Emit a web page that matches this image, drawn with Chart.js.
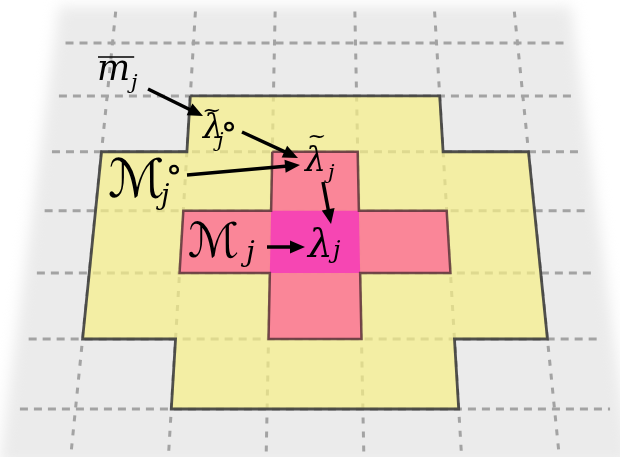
<!DOCTYPE html>
<html>
<head>
<meta charset="utf-8">
<script src="https://cdn.jsdelivr.net/npm/chart.js@4.4.1/dist/chart.umd.min.js"></script>
<style>
html,body{margin:0;padding:0;background:#fff;}
#wrap{width:620px;height:457px;position:relative;}
</style>
</head>
<body>
<div id="wrap"><canvas id="c"></canvas></div>
<script>
// ----- Data: a 5 x 6 grid of cells, each cell is [column, row] -----
const colCount = 5;
const rowCount = 6;
const yellowCells = [
  [1,1],[2,1],[3,1],
  [0,2],[1,2],[2,2],[3,2],[4,2],
  [0,3],[1,3],[2,3],[3,3],[4,3],
  [0,4],[1,4],[2,4],[3,4],[4,4],
  [1,5],[2,5],[3,5]
];
const pinkCells = [[2,2],[1,3],[2,3],[3,3],[2,4]];
const centerCells = [[2,3]];

// label texts (base, sub, accent marks)
const labelTexts = [
  {base:'m', sub:'j', bar:true},
  {base:'λ', sub:'j', tilde:true, ring:true},
  {base:'λ', sub:'j', tilde:true},
  {base:'ℳ', sub:'j', ring:true},
  {base:'ℳ', sub:'j'},
  {base:'λ', sub:'j'}
];

// ----- Layout (canvas units) -----
const view = {cx:315, yh:-1960, p:4.9925e-4, q:1.2855e-5, k:0.04044};
const serif = '"DejaVu Serif", serif';
const script = '"DejaVu Sans", serif';
const labelLayout = [
  {x:97,  y:80,  size:35, font:serif,  sx:131, sy:89,  subSize:21},
  {x:203, y:138, size:33, font:serif,  sx:217, sy:147, subSize:21, tx:212, ty:110, rx:229, ry:127},
  {x:305, y:171, size:33, font:serif,  sx:328, sy:179, subSize:21, tx:317, ty:136},
  {x:108, y:197, size:53, font:script, sx:161, sy:204, subSize:27, rx:174, ry:170},
  {x:188, y:257, size:48, font:script, sx:246, sy:261, subSize:28},
  {x:308, y:257, size:39, font:serif,  sx:333, sy:258, subSize:24}
];
const arrows = [
  [148,89,203,116],
  [242,132,298,158],
  [187,175,300,165],
  [323,182,331,224],
  [267,247,305,247]
];

function project(c, r){
  const d = 1/(view.p - view.q*r);
  return {x: view.cx + (c - colCount/2)*view.k*d, y: view.yh + d};
}

// walk the outer edge of a set of cells into one closed polygon
function outline(cells){
  const key = (a,b)=>a+','+b;
  const set = new Set(cells.map(([c,r])=>key(c,r)));
  const next = new Map();
  cells.forEach(([c,r])=>{
    if(!set.has(key(c,r-1))) next.set(key(c,r),[c+1,r]);
    if(!set.has(key(c+1,r))) next.set(key(c+1,r),[c+1,r+1]);
    if(!set.has(key(c,r+1))) next.set(key(c+1,r+1),[c,r+1]);
    if(!set.has(key(c-1,r))) next.set(key(c,r+1),[c,r]);
  });
  const start = next.keys().next().value;
  const pts = [];
  let cur = start;
  do{
    const [c,r] = cur.split(',').map(Number);
    pts.push(project(c,r));
    const n = next.get(cur);
    cur = key(n[0],n[1]);
  }while(cur!==start);
  pts.push(pts[0]);
  return pts;
}

const datasets = [];
const line = (data, extra)=>Object.assign({data, showLine:true, pointRadius:0, tension:0, fill:false, borderWidth:0}, extra);

// grid lines
for(let r=0;r<=rowCount;r++){
  datasets.push(line([project(-0.58,r),project(colCount+0.58,r)],
    {borderColor:'#a3a3a3', borderWidth:3, borderDash:[8,6], order:60}));
}
for(let c=0;c<=colCount;c++){
  datasets.push(line([project(c,-0.62),project(c,rowCount+0.62)],
    {borderColor:'#a3a3a3', borderWidth:3, borderDash:[6,8], order:60}));
}
// regions
datasets.push(line(outline(yellowCells),{fill:'shape', backgroundColor:'rgba(245,239,136,0.72)', order:50}));
datasets.push(line(outline(pinkCells),{fill:'shape', backgroundColor:'rgba(250,127,151,0.94)', order:40}));
datasets.push(line(outline(centerCells),{fill:'shape', backgroundColor:'rgba(245,66,180,0.95)', order:30}));
datasets.push(line(outline(pinkCells),{borderColor:'rgba(90,50,58,0.85)', borderWidth:2.5, borderJoinStyle:'miter', order:20}));
datasets.push(line(outline(yellowCells),{borderColor:'rgba(62,62,62,0.9)', borderWidth:2.8, borderJoinStyle:'miter', order:10}));

const planePlugin = {
  id:'plane',
  beforeDatasetsDraw(chart){
    const {ctx, scales:{x, y}} = chart;
    const corners = [project(-0.72,-0.72),project(colCount+0.72,-0.72),project(colCount+0.72,rowCount+0.75),project(-0.72,rowCount+0.75)];
    ctx.save();
    ctx.filter = 'blur(7px)';
    ctx.fillStyle = '#ebebeb';
    ctx.beginPath();
    corners.forEach((p,i)=>{
      const px = x.getPixelForValue(p.x), py = y.getPixelForValue(p.y);
      i ? ctx.lineTo(px,py) : ctx.moveTo(px,py);
    });
    ctx.closePath();
    ctx.fill();
    ctx.restore();
  }
};

const notesPlugin = {
  id:'notes',
  afterDatasetsDraw(chart){
    const {ctx, scales:{x, y}} = chart;
    const X = v=>x.getPixelForValue(v), Y = v=>y.getPixelForValue(v);
    ctx.save();
    ctx.fillStyle = '#000';
    ctx.strokeStyle = '#000';
    // arrows
    arrows.forEach(([x1,y1,x2,y2])=>{
      const ax = X(x1), ay = Y(y1), bx = X(x2), by = Y(y2);
      const ang = Math.atan2(by-ay, bx-ax);
      const hl = 15, hw = 6.5;
      ctx.lineWidth = 3.5;
      ctx.beginPath();
      ctx.moveTo(ax,ay);
      ctx.lineTo(bx-Math.cos(ang)*hl*0.8, by-Math.sin(ang)*hl*0.8);
      ctx.stroke();
      ctx.beginPath();
      ctx.moveTo(bx,by);
      ctx.lineTo(bx-Math.cos(ang)*hl-Math.sin(ang)*hw, by-Math.sin(ang)*hl+Math.cos(ang)*hw);
      ctx.lineTo(bx-Math.cos(ang)*hl+Math.sin(ang)*hw, by-Math.sin(ang)*hl-Math.cos(ang)*hw);
      ctx.closePath();
      ctx.fill();
    });
    // labels
    ctx.textBaseline = 'alphabetic';
    labelTexts.forEach((t,i)=>{
      const L = labelLayout[i];
      const italic = L.font===serif ? 'italic ' : '';
      ctx.textAlign = 'left';
      ctx.font = italic + L.size + 'px ' + L.font;
      ctx.fillText(t.base, X(L.x), Y(L.y));
      const w = ctx.measureText(t.base).width;
      if(t.bar){
        ctx.lineWidth = 1.6;
        ctx.beginPath();
        ctx.moveTo(X(L.x+1), Y(57));
        ctx.lineTo(X(L.x+w+4), Y(57));
        ctx.stroke();
      }
      ctx.textAlign = 'center';
      if(t.tilde){
        const fs = Math.round(L.size*0.7);
        ctx.font = fs + 'px ' + serif;
        ctx.fillText('~', X(L.tx), Y(L.ty + fs*0.3));
      }
      if(t.ring){
        const fs = 36;
        ctx.font = fs + 'px "DejaVu Serif"';
        ctx.fillText('∘', X(L.rx), Y(L.ry + fs*0.3));
      }
      ctx.textAlign = 'left';
      ctx.font = 'italic ' + L.subSize + 'px ' + serif;
      ctx.fillText(t.sub, X(L.sx), Y(L.sy));
    });
    ctx.restore();
  }
};

new Chart(document.getElementById('c'), {
  type:'scatter',
  data:{datasets},
  options:{
    responsive:true,
    maintainAspectRatio:false,
    animation:false,
    events:[],
    layout:{padding:0},
    plugins:{legend:{display:false}, tooltip:{enabled:false}},
    scales:{
      x:{type:'linear', min:0, max:620, display:false},
      y:{type:'linear', min:0, max:457, reverse:true, display:false}
    }
  },
  plugins:[planePlugin, notesPlugin]
});
</script>
</body>
</html>
